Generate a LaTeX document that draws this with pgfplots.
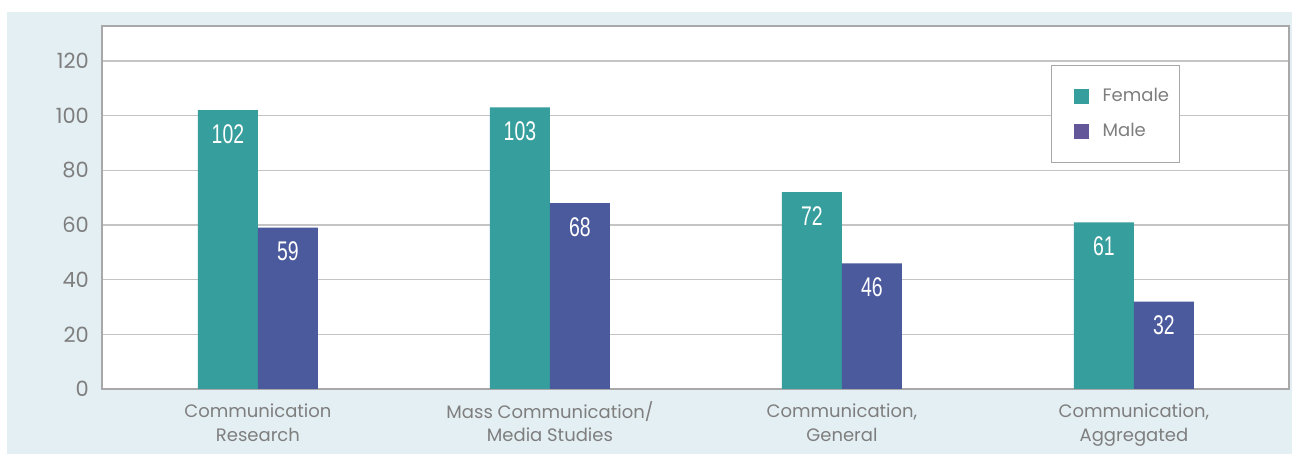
\documentclass[border=0pt]{standalone}
\usepackage{pgfplots}
\pgfplotsset{compat=1.18}
\usepackage{fontspec}
\setmainfont{Poppins}
\newfontfamily\narrowfont[FakeStretch=0.72]{Liberation Sans}
\definecolor{bgblue}{HTML}{E4EFF3}
\definecolor{female}{HTML}{369E9C}
\definecolor{male}{HTML}{4B5A9C}
\definecolor{malelegend}{HTML}{63579A}
\definecolor{txtgray}{HTML}{7E7E7E}
\definecolor{gridgray}{HTML}{C4C4C4}
\definecolor{bordergray}{HTML}{A8A8A8}
\begin{document}
\begin{tikzpicture}
\useasboundingbox (-51pt,-32.5pt) rectangle (595pt,194.5pt);
\fill[bgblue] (-47.5pt,-32.5pt) rectangle (595pt,188.5pt);
\begin{axis}[
  at={(0pt,0pt)}, anchor=south west,
  scale only axis,
  width=593.5pt, height=181.5pt,
  axis background/.style={fill=white},
  ybar, bar width=0.2055,
  xmin=-0.534, xmax=3.531,
  ymin=0, ymax=132.8,
  ytick={0,20,...,120},
  xtick={0,1,2,3},
  xticklabels={{\strut Communication\\Research},{\strut Mass Communication/\\Media Studies},{\strut Communication,\\General},{\strut Communication,\\Aggregated}},
  xticklabel style={align=center, font=\fontsize{9}{11.8}\selectfont, text=txtgray, yshift=-2.5pt},
  yticklabel style={font=\fontsize{10.5}{12}\selectfont, text=txtgray, xshift=-3pt},
  /pgf/number format/assume math mode=true,
  major tick length=0pt,
  ymajorgrids, grid style={gridgray, line width=0.6pt},
  axis line style={bordergray, line width=0.7pt},
  enlargelimits=false,
  nodes near coords,
  every node near coord/.append style={font=\narrowfont\fontsize{13.5}{13.5}\selectfont, text=white, anchor=north, inner sep=0pt, yshift=-7pt},
  legend style={at={(axis description cs:0.7995,0.8926)}, anchor=north west,
    draw=bordergray, fill=white, font=\fontsize{9}{11}\selectfont, text=txtgray,
    inner xsep=3pt, inner ysep=9.5pt, row sep=5pt, line width=0.6pt,
    /tikz/every odd column/.append style={column sep=3.5pt}},
  legend cell align=left,
]
\addplot[fill=female, draw=none, bar shift=-0.10275,
  legend image code/.code={\path (0pt,0pt); \fill[female] (8pt,-3.75pt) rectangle (15.5pt,3.75pt);}]
  coordinates {(0,102) (1,103) (2,72) (3,61)};
\addlegendentry{\,Female}
\addplot[fill=male, draw=none, bar shift=0.10275,
  legend image code/.code={\path (0pt,0pt); \fill[malelegend] (8pt,-3.75pt) rectangle (15.5pt,3.75pt);}]
  coordinates {(0,59) (1,68) (2,46) (3,32)};
\addlegendentry{\,Male}
\end{axis}
\end{tikzpicture}
\end{document}
